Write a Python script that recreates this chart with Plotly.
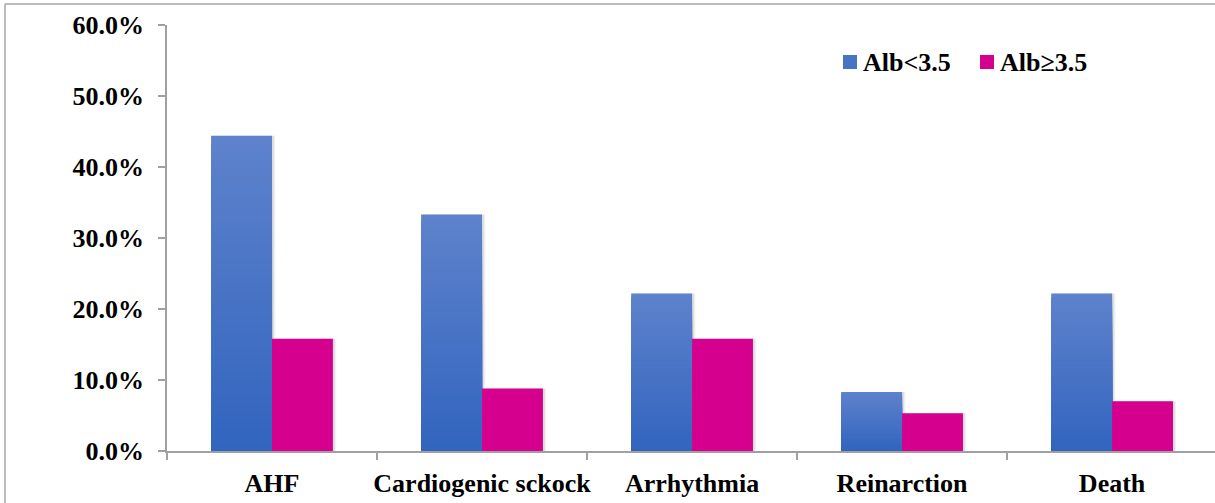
import plotly.graph_objects as go

# Complication rates by serum albumin group
categories = ["AHF", "Cardiogenic sckock", "Arrhythmia", "Reinarction", "Death"]
alb_low = [0.444, 0.333, 0.222, 0.083, 0.222]    # Alb<3.5
alb_high = [0.158, 0.088, 0.158, 0.053, 0.070]   # Alb≥3.5
series_names = ["Alb<3.5", "Alb≥3.5"]

W, H = 1215, 503
L, R, T, B = 167, 0, 25, 52
PW, PH = W - L - R, H - T - B

FONT = "Liberation Serif, Times New Roman, serif"
BLUE_TOP = (94, 130, 204)
BLUE_BOT = (50, 101, 190)
PINK = "#D6008F"
BAR_W = 0.29
N_STEPS = 40


def px_x(px):
    return (px - L) / PW


def px_y(py):
    return (H - B - py) / PH


def mix(c1, c2, t):
    return "rgb(%d,%d,%d)" % tuple(round(a + (b - a) * t) for a, b in zip(c1, c2))


fig = go.Figure()

# soft drop shadows behind the bars
for dx, alpha in [(0.016, 0.05), (0.010, 0.08)]:
    fig.add_bar(x=categories, y=alb_low, width=BAR_W, offset=-BAR_W + dx,
                marker=dict(color="rgba(0,0,0,%g)" % alpha, line_width=0),
                showlegend=False, hoverinfo="skip")
    fig.add_bar(x=categories, y=alb_high, width=BAR_W, offset=dx,
                marker=dict(color="rgba(0,0,0,%g)" % alpha, line_width=0),
                showlegend=False, hoverinfo="skip")

# blue bars with a vertical gradient: nested bars from full height down
for k in range(N_STEPS):
    frac = (N_STEPS - k) / N_STEPS
    fig.add_bar(x=categories, y=[v * frac for v in alb_low], width=BAR_W,
                offset=-BAR_W,
                marker=dict(color=mix(BLUE_TOP, BLUE_BOT, k / (N_STEPS - 1)),
                            line_width=0),
                showlegend=False, hoverinfo="skip")

fig.add_bar(x=categories, y=alb_high, width=BAR_W, offset=0,
            marker=dict(color=PINK, line_width=0), name=series_names[1],
            showlegend=False)

shapes = [
    # outer frame
    dict(type="line", xref="paper", yref="paper", x0=px_x(5), x1=px_x(5),
         y0=px_y(4), y1=px_y(H + 5), line=dict(color="#A6A6A6", width=1.5)),
    dict(type="line", xref="paper", yref="paper", x0=px_x(5), x1=px_x(W + 5),
         y0=px_y(4), y1=px_y(4), line=dict(color="#A6A6A6", width=1.5)),
    # legend swatches
    dict(type="rect", xref="paper", yref="paper", x0=px_x(843), x1=px_x(857),
         y0=px_y(69), y1=px_y(55), fillcolor=mix(BLUE_TOP, BLUE_BOT, 0.5),
         line_width=0),
    dict(type="rect", xref="paper", yref="paper", x0=px_x(980), x1=px_x(994),
         y0=px_y(69), y1=px_y(55), fillcolor=PINK, line_width=0),
]

annotations = [
    dict(text="<b>%s</b>" % series_names[0], xref="paper", yref="paper",
         x=px_x(861), y=px_y(62), xanchor="left", yanchor="middle",
         showarrow=False, font=dict(family=FONT, size=26, color="black")),
    dict(text="<b>%s</b>" % series_names[1], xref="paper", yref="paper",
         x=px_x(998), y=px_y(62), xanchor="left", yanchor="middle",
         showarrow=False, font=dict(family=FONT, size=26, color="black")),
]

fig.update_layout(
    width=W, height=H,
    margin=dict(l=L, r=R, t=T, b=B, pad=0),
    paper_bgcolor="white", plot_bgcolor="white",
    barmode="overlay",
    showlegend=False,
    shapes=shapes,
    annotations=annotations,
    xaxis=dict(
        type="category", range=[-0.5, 4.49],
        showgrid=False, zeroline=False, automargin=False,
        showline=True, linecolor="#A0A0A0", linewidth=1.5,
        ticks="outside", tickson="boundaries", ticklen=7,
        tickcolor="#A0A0A0", tickwidth=1.5, tickangle=0,
        tickfont=dict(family=FONT, size=26, color="black", weight="bold"),
        ticklabelstandoff=8,
    ),
    yaxis=dict(
        range=[0, 0.6], dtick=0.1, tickformat=".1%",
        showgrid=False, zeroline=False, automargin=False,
        showline=True, linecolor="#A0A0A0", linewidth=1.5,
        ticks="outside", ticklen=7, tickcolor="#A0A0A0", tickwidth=1.5,
        tickfont=dict(family=FONT, size=26, color="black", weight="bold"),
        ticklabelstandoff=9,
    ),
)

fig.write_html("out.html")
